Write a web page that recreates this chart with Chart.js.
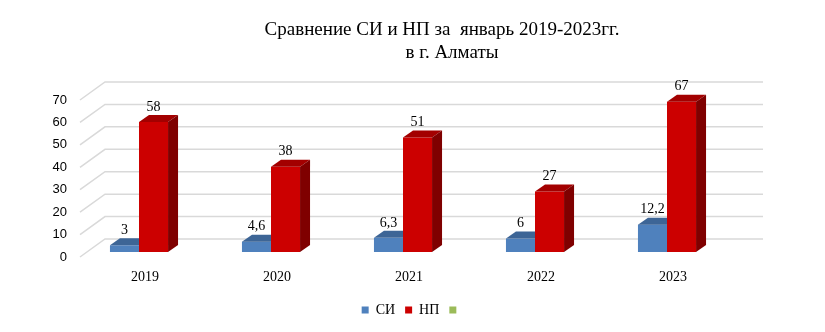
<!DOCTYPE html>
<html>
<head>
<meta charset="utf-8">
<script src="https://cdn.jsdelivr.net/npm/chart.js@4.4.1/dist/chart.umd.min.js"></script>
<style>
  html, body { margin: 0; padding: 0; background: #fff; }
  #wrap { width: 825px; height: 332px; }
</style>
</head>
<body>
<div id="wrap"><canvas id="chart" width="825" height="332"></canvas></div>
<script>
const years = ["2019", "2020", "2021", "2022", "2023"];
const siValues = [3, 4.6, 6.3, 6, 12.2];
const npValues = [58, 38, 51, 27, 67];
const seriesNames = ["СИ", "НП", ""];
const yTicks = [0, 10, 20, 30, 40, 50, 60, 70];
const titleLines = ["Сравнение СИ и НП за  январь 2019-2023гг.", "в г. Алматы"];

// 3d look: offset of bar back face, and of back wall from the label plane
const DEPTH_X = 10, DEPTH_Y = -7;
const FRONT_DY = 5, BACK_DX = 105, BACK_DY = -13, FRONT_X = 80;

const faceColors = [
  { top: "#3d6596", side: "#2f5480" },
  { top: "#a30000", side: "#7f0000" }
];

function fmt(v) {
  return String(v).replace(".", ",");
}

const wallPlugin = {
  id: "wall",
  beforeDatasetsDraw(chart) {
    const ctx = chart.ctx;
    const y = chart.scales.y;
    const right = chart.chartArea.right + 30;
    ctx.save();
    ctx.strokeStyle = "#d9d9d9";
    ctx.lineWidth = 1.5;
    yTicks.forEach(v => {
      const py = y.getPixelForValue(v);
      ctx.beginPath();
      ctx.moveTo(FRONT_X, py + FRONT_DY);
      ctx.lineTo(BACK_DX, py + BACK_DY);
      ctx.lineTo(right, py + BACK_DY);
      ctx.stroke();
    });
    ctx.restore();
  }
};

const barFacesPlugin = {
  id: "barFaces",
  afterDatasetDraw(chart, args) {
    const i = args.index;
    if (!faceColors[i]) return;
    const ctx = chart.ctx;
    const meta = chart.getDatasetMeta(i);
    meta.data.forEach(bar => {
      const x1 = bar.x - bar.width / 2;
      const x2 = bar.x + bar.width / 2;
      const top = bar.y;
      const bottom = bar.base;
      ctx.save();
      // the СИ bar sits behind the НП bar next to it: hide what is behind
      if (i === 0) {
        ctx.beginPath();
        ctx.rect(0, 0, x2, chart.height);
        ctx.clip();
      }
      ctx.fillStyle = faceColors[i].top;
      ctx.beginPath();
      ctx.moveTo(x1, top);
      ctx.lineTo(x2, top);
      ctx.lineTo(x2 + DEPTH_X, top + DEPTH_Y);
      ctx.lineTo(x1 + DEPTH_X, top + DEPTH_Y);
      ctx.closePath();
      ctx.fill();
      ctx.fillStyle = faceColors[i].side;
      ctx.beginPath();
      ctx.moveTo(x2, top);
      ctx.lineTo(x2 + DEPTH_X, top + DEPTH_Y);
      ctx.lineTo(x2 + DEPTH_X, bottom + DEPTH_Y);
      ctx.lineTo(x2, bottom);
      ctx.closePath();
      ctx.fill();
      ctx.restore();
    });
  },
  afterDatasetsDraw(chart) {
    const ctx = chart.ctx;
    ctx.save();
    ctx.fillStyle = "#000";
    ctx.font = "14px 'Liberation Serif', serif";
    ctx.textAlign = "center";
    ctx.textBaseline = "middle";
    [0, 1].forEach(i => {
      const meta = chart.getDatasetMeta(i);
      const vals = chart.data.datasets[i].data;
      meta.data.forEach((bar, j) => {
        ctx.fillText(fmt(vals[j]), bar.x, bar.y - 15);
      });
    });
    ctx.restore();
  }
};

const titlePlugin = {
  id: "twoLineTitle",
  afterDraw(chart) {
    const ctx = chart.ctx;
    ctx.save();
    ctx.fillStyle = "#000";
    ctx.font = "19px 'Liberation Serif', serif";
    ctx.textAlign = "center";
    ctx.textBaseline = "alphabetic";
    ctx.fillText(titleLines[0], 442, 35);
    ctx.fillText(titleLines[1], 452, 58);
    ctx.restore();
  }
};

new Chart(document.getElementById("chart"), {
  type: "bar",
  data: {
    labels: years,
    datasets: [
      {
        label: seriesNames[0],
        data: siValues,
        backgroundColor: "#4f81bd",
        categoryPercentage: 0.44,
        barPercentage: 1
      },
      {
        label: seriesNames[1],
        data: npValues,
        backgroundColor: "#cc0000",
        categoryPercentage: 0.44,
        barPercentage: 1
      },
      {
        type: "line",
        label: seriesNames[2],
        data: [],
        backgroundColor: "#9bbb59",
        borderColor: "#9bbb59",
        borderWidth: 0
      }
    ]
  },
  plugins: [wallPlugin, barFacesPlugin, titlePlugin],
  options: {
    responsive: false,
    animation: false,
    layout: { padding: { top: 95, right: 0, bottom: 5, left: 0 } },
    plugins: {
      title: { display: false },
      tooltip: { enabled: false },
      legend: {
        position: "bottom",
        labels: {
          boxWidth: 7,
          boxHeight: 7,
          padding: 10,
          color: "#000",
          font: { family: "'Liberation Serif', serif", size: 14 }
        }
      }
    },
    scales: {
      x: {
        grid: { display: false, drawTicks: false },
        border: { display: false },
        ticks: {
          color: "#000",
          padding: 17,
          labelOffset: 6,
          font: { family: "'Liberation Serif', serif", size: 14 }
        },
        afterFit(scale) { scale.height = 41; }
      },
      y: {
        min: 0,
        max: 70,
        grid: { display: false, drawTicks: false },
        border: { display: false },
        ticks: {
          stepSize: 10,
          color: "#000",
          padding: 6,
          labelOffset: FRONT_DY,
          font: { family: "'Liberation Sans', sans-serif", size: 13 }
        },
        afterFit(scale) { scale.width = 73; }
      },
      // empty right axis, keeps room for the 3d back wall
      yRight: {
        position: "right",
        min: 0,
        max: 70,
        grid: { display: false, drawTicks: false },
        border: { display: false },
        ticks: { display: false },
        afterFit(scale) { scale.width = 92; }
      }
    }
  }
});
</script>
</body>
</html>
